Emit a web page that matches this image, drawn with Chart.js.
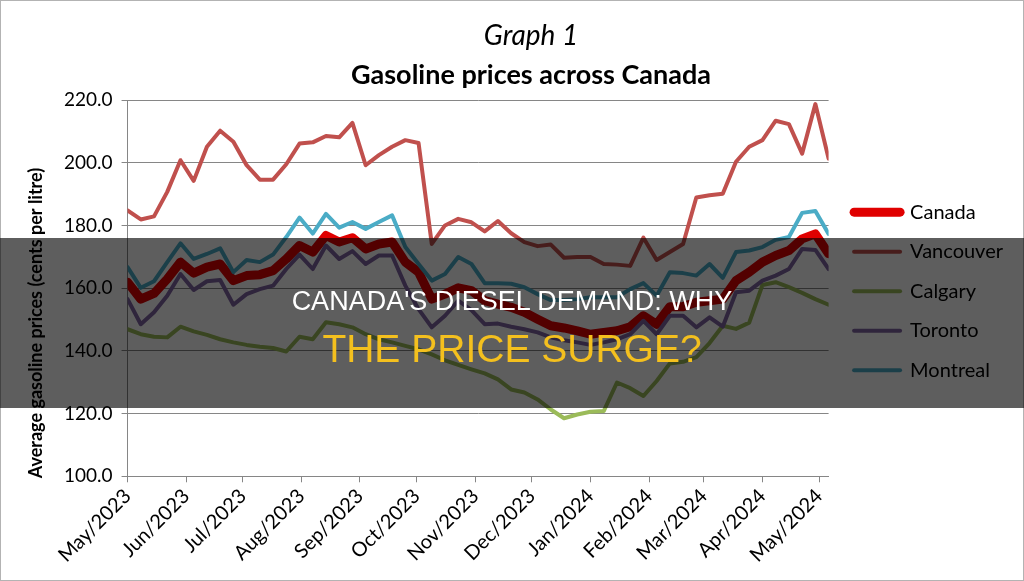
<!DOCTYPE html>
<html>
<head>
<meta charset="utf-8">
<title>Gasoline prices across Canada</title>
<script src="https://cdn.jsdelivr.net/npm/chart.js@4.4.1/dist/chart.umd.min.js"></script>
<style>
    html, body { margin: 0; padding: 0; background: #fff; }
    #wrap { position: relative; width: 1024px; height: 581px; overflow: hidden; }
    #wrap canvas { position: absolute; left: 0; top: 0; }
    #frame { position: absolute; left: 0; top: 0; width: 1024px; height: 581px; box-sizing: border-box; border: 1px solid #b3b3b3; pointer-events: none; }
    #band { position: absolute; left: 0; top: 238px; width: 1024px; height: 170px; background: rgba(0, 0, 0, 0.63); font-family: "Liberation Sans", Arial, sans-serif; text-align: center; }
    #band .l1 { position: absolute; left: 0; right: 0; top: 48px; color: #fff; font-size: 27px; line-height: 30px; white-space: nowrap; }
    #band .l2 { position: absolute; left: 0; right: 0; top: 89px; color: #f4c01e; font-size: 39px; line-height: 44px; white-space: nowrap; }
</style>
</head>
<body>
<div id="wrap">
    <canvas id="priceChart" width="1024" height="581"></canvas>
    <div id="frame"></div>
    <div id="band">
        <div class="l1">CANADA'S DIESEL DEMAND: WHY</div>
        <div class="l2">THE PRICE SURGE?</div>
    </div>
</div>
<script>
// Weekly prices, May 2023 - May 2024 (cents per litre)
const canada = [161.9, 156.5, 158.3, 162.9, 168.3, 164.8, 166.7, 167.7, 162.4, 164.0,
    164.3, 165.6, 169.3, 173.6, 171.5, 176.8, 174.7, 176.1, 172.5, 174.1,
    174.7, 168.3, 165.1, 156.5, 158.1, 160.1, 159.2, 156.0, 154.9, 153.9,
    152.3, 150.1, 148.0, 147.3, 146.4, 145.3, 145.9, 146.4, 147.7, 151.2,
    148.5, 154.1, 154.1, 155.5, 156.0, 156.5, 162.4, 165.1, 168.3, 170.4,
    172.0, 175.7, 177.3, 171.0];
const vancouver = [184.8, 181.9, 182.9, 190.7, 200.8, 194.2, 205.1, 210.2, 206.7, 199.2,
    194.6, 194.6, 199.5, 206.1, 206.5, 208.5, 208.1, 212.7, 199.2, 202.4,
    205.1, 207.2, 206.3, 174.1, 180.0, 182.1, 181.0, 178.1, 181.4, 177.5,
    174.7, 173.4, 173.9, 169.7, 169.9, 169.9, 167.7, 167.5, 167.1, 176.1,
    169.0, 171.5, 174.1, 188.9, 189.6, 190.1, 200.3, 205.1, 207.2, 213.4,
    212.3, 202.9, 218.7, 201.3];
const calgary = [146.9, 145.3, 144.5, 144.3, 147.7, 146.2, 145.1, 143.7, 142.7, 141.9,
    141.3, 140.9, 139.8, 144.5, 143.7, 149.1, 148.5, 147.5, 145.3, 143.7,
    142.7, 141.6, 140.5, 138.9, 137.0, 135.5, 134.1, 132.8, 130.9, 127.7,
    126.7, 124.5, 121.3, 118.5, 119.7, 120.6, 120.8, 129.9, 128.1, 125.6,
    130.4, 136.0, 136.5, 138.0, 142.5, 148.0, 147.0, 149.0, 161.0, 161.9,
    160.3, 158.5, 156.5, 154.7];
const toronto = [156.5, 148.5, 152.3, 157.6, 164.5, 159.4, 162.2, 162.6, 154.7, 158.1,
    159.7, 160.8, 166.1, 170.7, 166.1, 173.6, 169.3, 171.8, 167.7, 170.4,
    170.4, 160.8, 153.3, 147.5, 151.2, 156.0, 153.0, 148.5, 148.7, 147.7,
    146.9, 145.9, 144.3, 143.4, 142.7, 141.9, 142.7, 143.7, 145.3, 149.6,
    145.3, 151.2, 151.2, 147.5, 150.7, 147.7, 158.7, 159.2, 162.4, 164.0,
    166.1, 172.5, 172.2, 166.1];
const montreal = [166.7, 160.1, 162.2, 168.3, 174.3, 169.3, 170.9, 172.7, 165.1, 169.0,
    168.3, 170.7, 176.3, 182.5, 177.4, 183.7, 179.3, 181.1, 178.9, 181.1,
    183.2, 173.1, 167.7, 162.4, 164.5, 169.9, 167.7, 161.6, 161.6, 161.4,
    160.3, 158.1, 156.2, 156.2, 156.5, 157.1, 157.1, 157.1, 159.7, 161.6,
    157.6, 165.1, 164.8, 164.0, 167.7, 163.3, 171.5, 172.0, 173.1, 175.4,
    176.3, 184.0, 184.6, 177.3];

// week number of each observation (x axis)
const weeks = canada.map((_, i) => i);

// month ticks, in weeks from the first observation
const monthTicks = [0, 4.43, 8.71, 13.14, 17.57, 21.86, 26.29, 30.57, 35, 39.43, 43.57, 48, 52.29];
const monthLabels = ['May/2023', 'Jun/2023', 'Jul/2023', 'Aug/2023', 'Sep/2023', 'Oct/2023',
    'Nov/2023', 'Dec/2023', 'Jan/2024', 'Feb/2024', 'Mar/2024', 'Apr/2024', 'May/2024'];

const yAxisTitle = 'Average gasoline prices (cents per litre)';

Chart.defaults.font.family = 'Lato, "Open Sans", sans-serif';
Chart.defaults.color = '#000';

function series(label, values, color, width, order) {
    return {
        label: label,
        data: values,
        borderColor: color,
        backgroundColor: color,
        borderWidth: width,
        borderCapStyle: 'round',
        borderJoinStyle: 'round',
        pointRadius: 0,
        tension: 0,
        order: order
    };
}

// y axis title sits a little below the centre of the plot, like the original
const yTitlePlugin = {
    id: 'yTitle',
    afterLayout(chart) {
        // nudge the legend a bit away from the plot edge
        chart.legend.left += 6;
        chart.legend.right += 6;
        chart.legend.top += 3;
        chart.legend.bottom += 3;
    },
    afterDraw(chart) {
        const ctx = chart.ctx;
        ctx.save();
        ctx.translate(36, 323);
        ctx.rotate(-Math.PI / 2);
        ctx.font = 'bold 18px Lato, "Open Sans", sans-serif';
        ctx.fillStyle = '#000';
        ctx.textAlign = 'center';
        ctx.textBaseline = 'middle';
        ctx.fillText(yAxisTitle, 0, 0);
        ctx.restore();
    }
};

const ctx = document.getElementById('priceChart').getContext('2d');
const priceChart = new Chart(ctx, {
    type: 'line',
    data: {
        labels: weeks,
        datasets: [
            series('Canada', canada, '#e00000', 9, 5),
            series('Vancouver', vancouver, '#c0504d', 4, 4),
            series('Calgary', calgary, '#9bbb59', 4, 3),
            series('Toronto', toronto, '#8064a2', 4, 2),
            series('Montreal', montreal, '#4bacc6', 4, 1)
        ]
    },
    options: {
        responsive: false,
        animation: false,
        layout: { padding: { left: 55, right: 17, top: 0, bottom: 12 } },
        plugins: {
            title: {
                display: true,
                text: 'Graph 1',
                color: '#000',
                font: { size: 28, style: 'italic', weight: 'normal' },
                padding: { top: 19, bottom: 0 }
            },
            subtitle: {
                display: true,
                text: 'Gasoline prices across Canada',
                color: '#000',
                font: { size: 27, weight: 'bold' },
                padding: { top: 6, bottom: 9 }
            },
            legend: {
                position: 'right',
                fullSize: false,
                labels: {
                    usePointStyle: true,
                    pointStyle: 'line',
                    pointStyleWidth: 46,
                    padding: 19.5,
                    color: '#000',
                    font: { size: 20 },
                    generateLabels: chart => Chart.defaults.plugins.legend.labels.generateLabels(chart)
                        .map(item => Object.assign(item, { lineCap: 'round' })),
                    sort: (a, b) => a.datasetIndex - b.datasetIndex
                }
            },
            tooltip: { enabled: false }
        },
        scales: {
            x: {
                type: 'linear',
                min: 0,
                max: 53,
                afterBuildTicks: scale => {
                    scale.ticks = monthTicks.map(v => ({ value: v }));
                },
                ticks: {
                    autoSkip: false,
                    minRotation: 45,
                    maxRotation: 45,
                    padding: 2,
                    color: '#000',
                    font: { size: 20 },
                    callback: (v, i) => monthLabels[i]
                },
                grid: { drawOnChartArea: false, color: '#868686', tickLength: 6 },
                border: { color: '#868686' }
            },
            y: {
                min: 100,
                max: 220,
                ticks: {
                    stepSize: 20,
                    padding: 9,
                    color: '#000',
                    font: { size: 19 },
                    callback: v => v.toFixed(1)
                },
                grid: { color: '#868686', tickLength: 6 },
                border: { color: '#868686' }
            }
        }
    },
    plugins: [yTitlePlugin]
});
</script>
</body>
</html>
